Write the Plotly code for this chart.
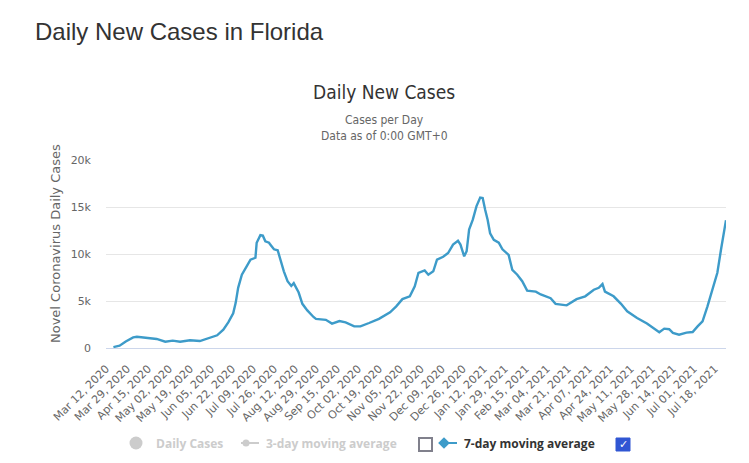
import datetime as dt
import plotly.graph_objects as go

# ---- data (7-day moving average of daily new cases, Florida) ----
dates = [
    "2020-03-18", "2020-03-23", "2020-03-28", "2020-04-03", "2020-04-06", "2020-04-14",
    "2020-04-22", "2020-04-29", "2020-05-05", "2020-05-11", "2020-05-19", "2020-05-27",
    "2020-06-02", "2020-06-10", "2020-06-15", "2020-06-19", "2020-06-23", "2020-06-25",
    "2020-06-27", "2020-06-30", "2020-07-04", "2020-07-07", "2020-07-11", "2020-07-12",
    "2020-07-15", "2020-07-17", "2020-07-19", "2020-07-22", "2020-07-23", "2020-07-26",
    "2020-07-29", "2020-07-31", "2020-08-03", "2020-08-06", "2020-08-09", "2020-08-11",
    "2020-08-15", "2020-08-18", "2020-08-22", "2020-08-27", "2020-08-29", "2020-09-06",
    "2020-09-11", "2020-09-17", "2020-09-22", "2020-09-29", "2020-10-04", "2020-10-11",
    "2020-10-19", "2020-10-28", "2020-11-02", "2020-11-07", "2020-11-13", "2020-11-17",
    "2020-11-20", "2020-11-25", "2020-11-28", "2020-12-02", "2020-12-05", "2020-12-10",
    "2020-12-14", "2020-12-18", "2020-12-22", "2020-12-24", "2020-12-27", "2020-12-29",
    "2020-12-31", "2021-01-03", "2021-01-06", "2021-01-09", "2021-01-11", "2021-01-13",
    "2021-01-15", "2021-01-17", "2021-01-20", "2021-01-24", "2021-01-27", "2021-02-01",
    "2021-02-04", "2021-02-08", "2021-02-12", "2021-02-16", "2021-02-23", "2021-02-27",
    "2021-03-07", "2021-03-11", "2021-03-20", "2021-03-28", "2021-04-04", "2021-04-11",
    "2021-04-15", "2021-04-18", "2021-04-20", "2021-04-27", "2021-05-03", "2021-05-08",
    "2021-05-16", "2021-05-24", "2021-06-03", "2021-06-07", "2021-06-11", "2021-06-14",
    "2021-06-19", "2021-06-25", "2021-06-30", "2021-07-04", "2021-07-08", "2021-07-12",
    "2021-07-16", "2021-07-20", "2021-07-23", "2021-07-27",
]
avg7 = [
    100, 250, 700, 1130, 1200, 1060,
    960, 670, 780, 670, 820, 740,
    1000, 1350, 1950, 2730, 3700, 4800,
    6400, 7800, 8700, 9400, 9600, 11200,
    12000, 11950, 11350, 11200, 11000, 10500,
    10400, 9400, 8160, 7100, 6600, 6900,
    5900, 4700, 4000, 3300, 3100, 3000,
    2600, 2870, 2730, 2300, 2300, 2660,
    3100, 3800, 4430, 5200, 5500, 6560,
    8000, 8260, 7800, 8160, 9400, 9700,
    10100, 11000, 11400, 11000, 9750, 10300,
    12600, 13650, 15100, 16000, 15960, 14700,
    13650, 12200, 11500, 11200, 10500, 9900,
    8300, 7800, 7100, 6100, 6000, 5700,
    5300, 4700, 4540, 5200, 5500, 6200,
    6400, 6800, 6000, 5500, 4700, 3900,
    3200, 2600, 1670, 2060, 2000, 1600,
    1420, 1630, 1700, 2300, 2840, 4430,
    6200, 8000, 10500, 13600,
]

first_category = "2020-03-12"
last_category = "2021-07-27"
tick_step_days = 17
y_ticks = [0, 5000, 10000, 15000, 20000]
y_tick_labels = ["0", "5k", "10k", "15k", "20k"]

# tick positions every 17 categories
start = dt.date.fromisoformat(first_category)
end = dt.date.fromisoformat(last_category)
tick_dates = []
d = start
while d <= end:
    tick_dates.append(d)
    d += dt.timedelta(days=tick_step_days)
tick_vals = [t.isoformat() for t in tick_dates]
tick_text = [t.strftime("%b %d, %Y") for t in tick_dates]

LINE = "#3d9bc9"
GREY = "#cccccc"

# page offset from default <body> margin
OFF = 8
FW, FH = 749 - OFF, 463 - OFF
# plot area in screen pixels
L, R, T, B = 106, 726, 160, 348
W, H = R - L, B - T


def px(x):
    return (x - L) / W


def py(y):
    return (B - y) / H


def cx(x):
    return (x - OFF) / FW


def cy(y):
    return 1 - (y - OFF) / FH


fig = go.Figure()
fig.add_trace(go.Scatter(
    x=dates, y=avg7, mode="lines", line=dict(color=LINE, width=2.4),
    showlegend=False, name="7-day moving average", hoverinfo="x+y",
))
# legend entries
fig.add_trace(go.Scatter(
    x=[None], y=[None], mode="markers", name="Daily Cases",
    marker=dict(color=GREY, size=13, symbol="circle"), legend="legend",
))
fig.add_trace(go.Scatter(
    x=[None], y=[None], mode="markers", name="3-day moving average",
    marker=dict(color=GREY, size=7), legend="legend2",
))
fig.add_trace(go.Scatter(
    x=[None], y=[None], mode="markers", name="7-day moving average",
    marker=dict(color=LINE, size=9, symbol="diamond"),
    legend="legend3",
))

leg_common = dict(orientation="h", yanchor="middle", y=cy(443), xanchor="left",
                  xref="container", yref="container",
                  bgcolor="rgba(0,0,0,0)", itemclick=False, itemdoubleclick=False)
fig.update_layout(
    legend=dict(x=cx(116), font=dict(family="Open Sans", size=12, color=GREY, weight="bold"), **leg_common),
    legend2=dict(x=cx(226), font=dict(family="Open Sans", size=12, color=GREY, weight="bold"), **leg_common),
    legend3=dict(x=cx(424), font=dict(family="Open Sans", size=12, color="#333333", weight="bold"), **leg_common),
)

fig.update_xaxes(
    type="date", range=[first_category, last_category],
    tickvals=tick_vals, ticktext=tick_text, tickangle=-45,
    tickfont=dict(family="DejaVu Sans", size=11, color="#666666"),
    showgrid=False, showline=True, linecolor="#ccd6eb", linewidth=1,
    ticks="", ticklabelstandoff=9, zeroline=False, automargin=False,
)
fig.update_yaxes(
    range=[0, 20000], tickvals=y_ticks, ticktext=y_tick_labels,
    tickfont=dict(family="DejaVu Sans", size=11, color="#666666"),
    showgrid=True, gridcolor="#e6e6e6", gridwidth=1, zeroline=False,
    ticklabelstandoff=14, showline=False, automargin=False,
)

ann = [
    dict(text="Daily New Cases in Florida", x=px(33), y=py(32), xanchor="left", yanchor="middle",
         font=dict(family="Liberation Sans, Arial", size=24, color="#333333")),
    dict(text="Daily New Cases", x=px(384), y=py(92), xanchor="center", yanchor="middle",
         font=dict(family="DejaVu Sans Condensed, DejaVu Sans", size=19, color="#333333")),
    dict(text="Cases per Day", x=px(384), y=py(120), xanchor="center", yanchor="middle",
         font=dict(family="DejaVu Sans Condensed, DejaVu Sans", size=12, color="#666666")),
    dict(text="Data as of 0:00 GMT+0", x=px(384), y=py(136), xanchor="center", yanchor="middle",
         font=dict(family="DejaVu Sans Condensed, DejaVu Sans", size=12, color="#666666")),
    dict(text="Novel Coronavirus Daily Cases", x=px(55), y=py(244), xanchor="center", yanchor="middle",
         textangle=-90, font=dict(family="DejaVu Sans", size=13, color="#666666")),
    dict(text="✓", x=px(623), y=py(444.5), xanchor="center", yanchor="middle",
         font=dict(family="DejaVu Sans", size=11, color="#ffffff")),
]
for a in ann:
    a.update(xref="paper", yref="paper", showarrow=False)

shapes = [
    # short legend lines
    dict(type="line", xref="paper", yref="paper", x0=px(241), x1=px(259), y0=py(443), y1=py(443),
         line=dict(color=GREY, width=2)),
    dict(type="line", xref="paper", yref="paper", x0=px(439), x1=px(457), y0=py(443), y1=py(443),
         line=dict(color=LINE, width=2)),
    # checkboxes
    dict(type="rect", xref="paper", yref="paper", x0=px(419), x1=px(432), y0=py(451), y1=py(438),
         line=dict(color="#80808c", width=2), fillcolor="rgba(0,0,0,0)"),
    dict(type="rect", xref="paper", yref="paper", x0=px(616), x1=px(630), y0=py(451), y1=py(438),
         line=dict(color="#3056d3", width=1), fillcolor="#3056d3"),
]

fig.update_layout(
    width=FW, height=FH,
    margin=dict(l=L - OFF, r=749 - R, t=T - OFF, b=463 - B, pad=0, autoexpand=False),
    paper_bgcolor="white", plot_bgcolor="white",
    annotations=ann, shapes=shapes, hovermode="x",
)

fig.write_html("out.html")
